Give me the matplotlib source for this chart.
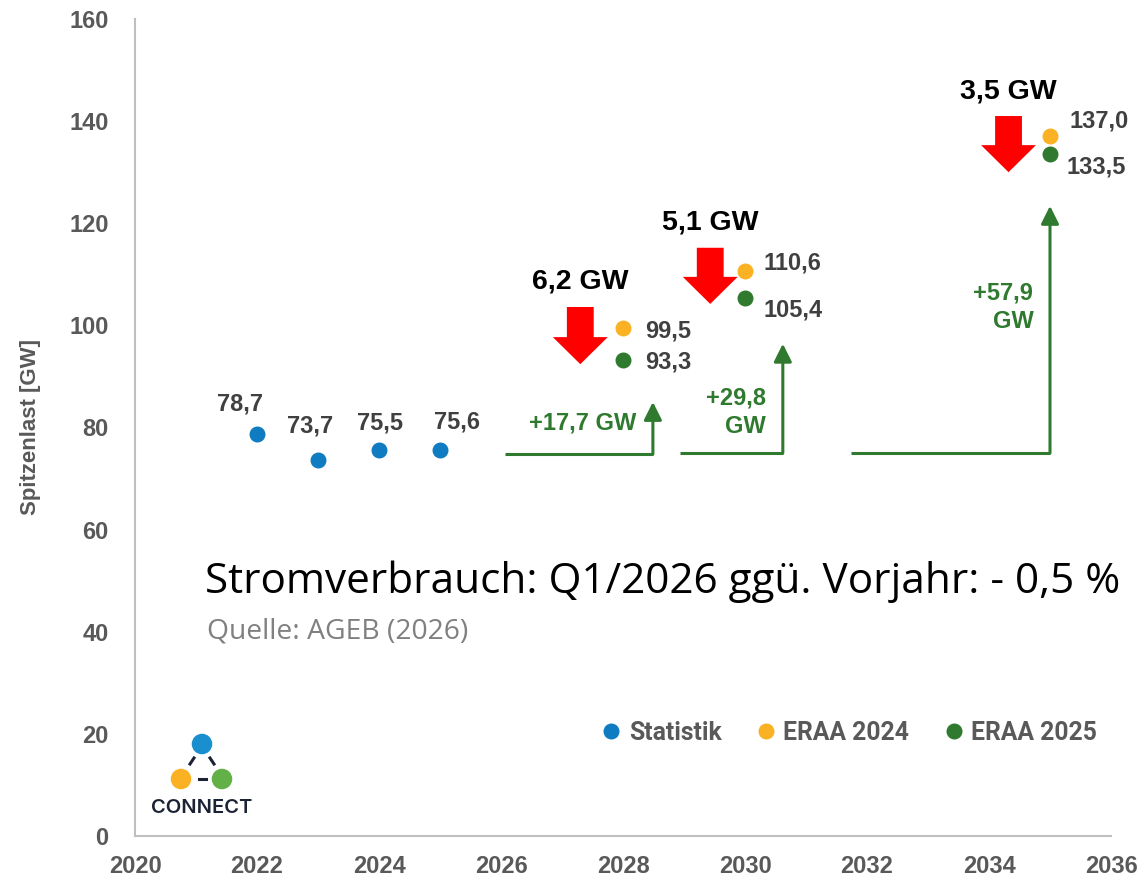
import matplotlib
matplotlib.use("Agg")
import matplotlib.pyplot as plt
from matplotlib.lines import Line2D
from matplotlib.patches import FancyArrow

#############################################################################################
# data
stat_years = [2022, 2023, 2024, 2025]
stat_values = [78.7, 73.7, 75.5, 75.6]
stat_label_offsets = [(-12, 22), (-6, 24), (1, 20), (12, 20)]

fc_years = [2028, 2030, 2035]
eraa2024_values = [99.5, 110.6, 137.0]
eraa2025_values = [93.3, 105.4, 133.5]
eraa2024_offsets = [(16, -2), (13, 6), (14, 11)]
eraa2025_offsets = [(16, -2), (13, -9), (12, -9)]

# red "decrease" arrows
drop_labels = ["6,2 GW", "5,1 GW", "3,5 GW"]
drop_x = [2027.3, 2029.43, 2034.32]
drop_top = [103.6, 115.2, 141.0]
drop_tip = [92.4, 104.2, 130.0]

# green "increase" arrows
gain_labels = ["+17,7 GW", "+29,8\nGW", "+57,9\nGW"]
gain_start = [2026.07, 2028.93, 2031.74]
gain_corner = [2028.49, 2030.62, 2035.0]
gain_base = [74.8, 75.0, 75.0]
gain_tip = [85.0, 96.4, 123.4]
gain_label_y = [80.9, 83.0, 103.6]

x_ticks = list(range(2020, 2037, 2))
y_ticks = list(range(0, 161, 20))

BLUE = "#0f7bc1"
ORANGE = "#fbb124"
GREEN = "#2f7a2f"
RED = "#ff0000"
TICK_GRAY = "#595959"
LABEL_GRAY = "#404040"
FONT = "Liberation Sans"

#############################################################################################
fig = plt.figure(figsize=(11.44, 8.84), dpi=100)
ax = fig.add_axes([135 / 1144, 1 - 836 / 884, 976 / 1144, 817 / 884])

ax.set_xlim(2020, 2036)
ax.set_ylim(0, 160)
ax.set_xticks(x_ticks)
ax.set_yticks(y_ticks)
ax.tick_params(length=0, labelsize=17, labelcolor=TICK_GRAY)
ax.tick_params(axis="y", pad=19)
ax.tick_params(axis="x", pad=14)
for lab in ax.get_xticklabels() + ax.get_yticklabels():
    lab.set_fontfamily(FONT)
    lab.set_fontweight("bold")
for side in ["top", "right"]:
    ax.spines[side].set_visible(False)
for side in ["left", "bottom"]:
    ax.spines[side].set_color("#bfbfbf")
    ax.spines[side].set_linewidth(1.5)

ax.set_ylabel("Spitzenlast [GW]", fontsize=16, fontweight="bold", color=TICK_GRAY,
              fontfamily=FONT, labelpad=20)

# points
ax.scatter(stat_years, stat_values, s=110, color=BLUE, zorder=4)
ax.scatter(fc_years, eraa2024_values, s=110, color=ORANGE, zorder=4)
ax.scatter(fc_years, eraa2025_values, s=110, color=GREEN, zorder=4)

for x, v, off in zip(stat_years, stat_values, stat_label_offsets):
    ax.annotate(f"{v:.1f}".replace(".", ","), (x, v), xytext=off, textcoords="offset points",
                ha="center", va="center", fontsize=17, fontweight="bold", color=LABEL_GRAY,
                fontfamily=FONT)
for vals, offs in [(eraa2024_values, eraa2024_offsets), (eraa2025_values, eraa2025_offsets)]:
    for x, v, off in zip(fc_years, vals, offs):
        ax.annotate(f"{v:.1f}".replace(".", ","), (x, v), xytext=off, textcoords="offset points",
                    ha="left", va="center", fontsize=17, fontweight="bold", color=LABEL_GRAY,
                    fontfamily=FONT)

# red arrows + labels
for lab, x, top, tip in zip(drop_labels, drop_x, drop_top, drop_tip):
    ax.add_patch(FancyArrow(x, top, 0, tip - top, width=0.44, head_width=0.9, head_length=5.3,
                            length_includes_head=True, color=RED, lw=0, zorder=3))
    ax.annotate(lab, (x, top), xytext=(0, 18), textcoords="offset points", ha="center",
                va="center", fontsize=20.5, fontweight="bold", color="black", fontfamily=FONT)

# green arrows + labels
for lab, x0, x1, y0, y1, ly in zip(gain_labels, gain_start, gain_corner, gain_base, gain_tip,
                                   gain_label_y):
    ax.plot([x0, x1], [y0, y0], color=GREEN, lw=2.2, solid_capstyle="butt", zorder=3)
    ax.annotate("", xy=(x1, y1), xytext=(x1, y0),
                arrowprops=dict(arrowstyle="-|>", color=GREEN, lw=2.2, mutation_scale=27,
                                shrinkA=0, shrinkB=0), zorder=3)
    ax.annotate(lab, (x1, ly), xytext=(-12, 0), textcoords="offset points", ha="right",
                va="center", multialignment="right", fontsize=17, fontweight="bold",
                color=GREEN, fontfamily=FONT, linespacing=1.3)

# text box
ax.text(0.0717, 0.311, "Stromverbrauch: Q1/2026 ggü. Vorjahr: - 0,5 %", transform=ax.transAxes,
        ha="left", va="center", fontsize=30.4, color="black", fontfamily="Open Sans")
ax.text(0.0737, 0.2497, "Quelle: AGEB (2026)", transform=ax.transAxes, ha="left", va="center",
        fontsize=20.3, color="#808080", fontfamily="Open Sans")

# legend
handles = [Line2D([], [], marker="o", ls="", markersize=10.5, color=c) for c in [BLUE, ORANGE, GREEN]]
ax.legend(handles, ["Statistik", "ERAA 2024", "ERAA 2025"], loc="center",
          bbox_to_anchor=(0.733, 0.126), ncol=3, frameon=False, handlelength=0.6,
          handletextpad=0.4, columnspacing=1.5,
          prop={"family": "Roboto", "weight": "bold", "size": 17.8}, labelcolor=TICK_GRAY)

# CONNECT logo (pixel coordinates)
logo = fig.add_axes([150 / 1144, 1 - 825 / 884, 110 / 1144, 100 / 884])
logo.set_xlim(150, 260)
logo.set_ylim(825, 725)
logo.axis("off")
logo.scatter([202, 181, 222], [744, 779, 779], s=190, color=["#1a8fd0", "#fbb124", "#62b046"])
for (xa, ya), (xb, yb) in [((190, 764), (194, 758)), ((210, 758), (214, 764)),
                           ((199, 779), (206, 779))]:
    logo.plot([xa, xb], [ya, yb], color="#1a2233", lw=2.2)
logo.text(202, 808, "CONNECT", ha="center", va="center", fontsize=14.5, color="#1a2233",
          fontfamily="Inter", fontweight="semibold")

fig.savefig("out.png", dpi=100)
